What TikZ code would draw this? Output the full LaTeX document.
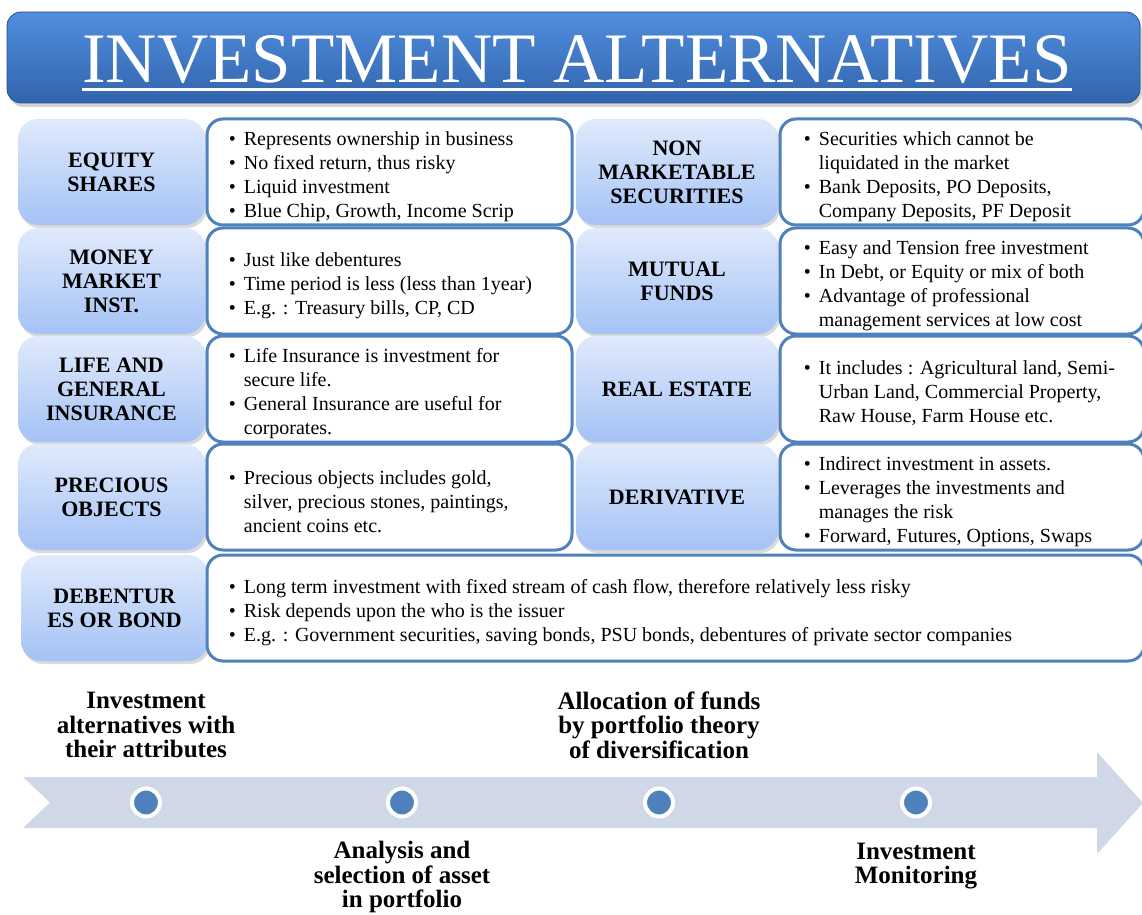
\documentclass[tikz,border=0pt]{standalone}
\usepackage{fontspec}
\setmainfont{Liberation Serif}
\usetikzlibrary{shadows,positioning}

\definecolor{barTop}{RGB}{80,142,222}
\definecolor{barBot}{RGB}{50,100,172}
\definecolor{catTop}{RGB}{224,234,252}
\definecolor{catBot}{RGB}{164,194,245}
\definecolor{boxBlue}{RGB}{79,129,189}
\definecolor{bandGray}{RGB}{208,216,232}

% bullet and continuation indent for the point lists
\newcommand\bul{\makebox[7.5pt][l]{\textbullet}}
\newcommand\cont{\hspace*{7.5pt}}

\begin{document}
\begin{tikzpicture}[x=0.5pt, y=-0.5pt,
  kind/.style={rectangle, rounded corners=10pt, minimum width=93.5pt, minimum height=53pt, inner sep=0pt, align=center,
    top color=catTop, bottom color=catBot, drop shadow={shadow xshift=1pt, shadow yshift=-1.5pt, opacity=.3},
    font=\fontsize{11}{12}\selectfont\bfseries},
  info/.style={rectangle, rounded corners=8pt, draw=boxBlue, line width=1.5pt, fill=white, minimum height=53pt, inner sep=0pt},
  pts/.style={align=left, inner sep=0pt, yshift=-2.2pt, font=\fontsize{10}{12}\selectfont},
  stagetxt/.style={align=center, inner sep=0pt, font=\fontsize{12.5}{12.3}\selectfont\bfseries},
  dot/.style={circle, fill=boxBlue, draw=white, line width=2pt, minimum size=14pt, inner sep=0pt}]
	\useasboundingbox (0,0) rectangle (1142,915);

	% heading bar
	\node[rectangle, rounded corners=7pt, minimum width=566.5pt, minimum height=45.5pt, top color=barTop, bottom color=barBot,
	  draw=barBot!80!black, line width=.4pt, drop shadow={shadow xshift=1pt, shadow yshift=-2pt, opacity=.35}] (bar) at (573.5,57.5) {};
	\node[inner sep=0pt, text=white, font=\fontsize{35.5}{35.5}\selectfont] (title) at (577,59.5) {INVESTMENT ALTERNATIVES};
	\draw[white, line width=1.4pt] ([yshift=-3.5pt]title.base west) -- ([yshift=-3.5pt]title.base east);

	% left column
	\node[kind] (k1) at (111.5,172) {EQUITY\\SHARES};
	\node[kind] (k2) at (111.5,281) {MONEY\\MARKET\\INST.};
	\node[kind] (k3) at (111.5,389) {LIFE AND\\GENERAL\\INSURANCE};
	\node[kind] (k4) at (111.5,497) {PRECIOUS\\OBJECTS};
	\node[kind] (k5) at (114.5,608) {DEBENTUR\\ES OR BOND};
	\node[info, minimum width=182.5pt] (b1) at (389.5,172) {};
	\node[info, minimum width=182.5pt] (b2) at (389.5,281) {};
	\node[info, minimum width=182.5pt] (b3) at (389.5,389) {};
	\node[info, minimum width=182.5pt] (b4) at (389.5,497) {};
	\node[info, minimum width=468.5pt] (b5) at (675.5,608) {};

	% right column
	\node[kind, minimum width=101pt] (k6) at (677,172) {NON\\MARKETABLE\\SECURITIES};
	\node[kind, minimum width=101pt] (k7) at (677,281) {MUTUAL\\FUNDS};
	\node[kind, minimum width=101pt] (k8) at (677,389) {REAL ESTATE};
	\node[kind, minimum width=101pt] (k9) at (677,497) {DERIVATIVE};
	\node[info, minimum width=182pt] (b6) at (962,172) {};
	\node[info, minimum width=182pt] (b7) at (962,281) {};
	\node[info, minimum width=182pt] (b8) at (962,389) {};
	\node[info, minimum width=182pt] (b9) at (962,497) {};

	\node[pts, right=11.5pt of b1.west] (p1) {\bul Represents ownership in business\\\bul No fixed return, thus risky\\\bul Liquid investment\\\bul Blue Chip, Growth, Income Scrip};
	\node[pts, right=11.5pt of b2.west] (p2) {\bul Just like debentures\\\bul Time period is less (less than 1year)\\\bul E.g. : Treasury bills, CP, CD};
	\node[pts, right=11.5pt of b3.west] (p3) {\bul Life Insurance is investment for\\\cont secure life.\\\bul General Insurance are useful for\\\cont corporates.};
	\node[pts, right=11.5pt of b4.west] (p4) {\bul Precious objects includes gold,\\\cont silver, precious stones, paintings,\\\cont ancient coins etc.};
	\node[pts, right=11.5pt of b5.west] (p5) {\bul Long term investment with fixed stream of cash flow, therefore relatively less risky\\\bul Risk depends upon the who is the issuer\\\bul E.g. : Government securities, saving bonds, PSU bonds, debentures of private sector companies};
	\node[pts, right=12.5pt of b6.west] (p6) {\bul Securities which cannot be\\\cont liquidated in the market\\\bul Bank Deposits, PO Deposits,\\\cont Company Deposits, PF Deposit};
	\node[pts, right=12.5pt of b7.west] (p7) {\bul Easy and Tension free investment\\\bul In Debt, or Equity or mix of both\\\bul Advantage of professional\\\cont management services at low cost};
	\node[pts, right=12.5pt of b8.west] (p8) {\bul It includes : Agricultural land, Semi-\\\cont Urban Land, Commercial Property,\\\cont Raw House, Farm House etc.};
	\node[pts, right=12.5pt of b9.west] (p9) {\bul Indirect investment in assets.\\\bul Leverages the investments and\\\cont manages the risk\\\bul Forward, Futures, Options, Swaps};

	% process arrow
	\fill[bandGray] (23,777) -- (1097,777) -- (1097,752) -- (1143,803) -- (1097,854) -- (1097,828) -- (23,828) -- (50,802.5) -- cycle;
	\foreach \x [count=\i] in {146,402,659,916}
	  \node[dot] (d\i) at (\x,802.5) {};
	\node[stagetxt] (s1) at (146,725) {Investment\\alternatives with\\their attributes};
	\node[stagetxt] (s2) at (402,877) {Analysis and\\selection of asset\\in portfolio};
	\node[stagetxt] (s3) at (659,725) {Allocation of funds\\by portfolio theory\\of diversification};
	\node[stagetxt] (s4) at (916,866) {Investment\\Monitoring};
\end{tikzpicture}
\end{document}
